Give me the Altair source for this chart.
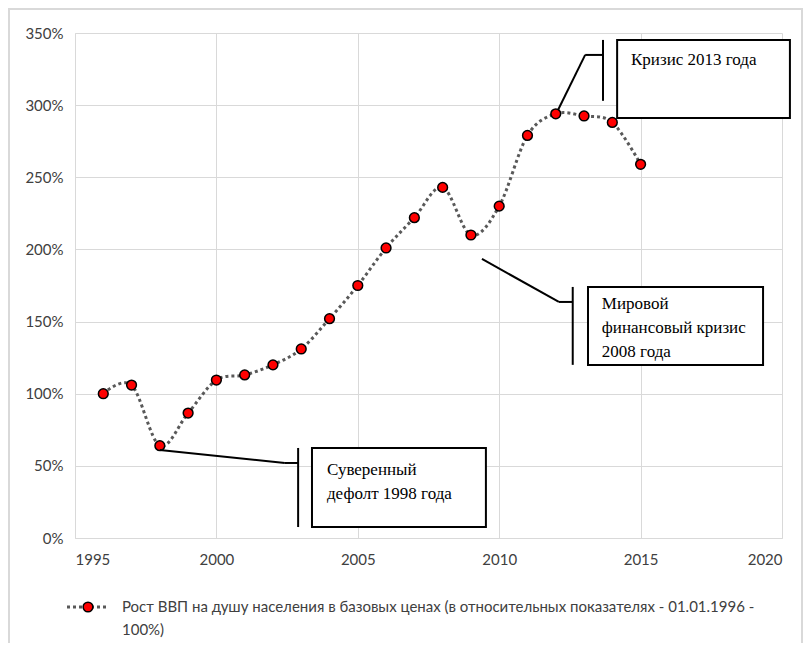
import altair as alt
import pandas as pd

years = list(range(1996, 2016))
values = [100, 106, 64, 86.6, 109.5, 113, 120, 131, 152, 175, 201, 222, 243, 210, 230, 279, 294, 292.5, 288, 259]
x_ticks = [1995, 2000, 2005, 2010, 2015, 2020]
y_ticks = [0, 0.5, 1.0, 1.5, 2.0, 2.5, 3.0, 3.5]
legend_title = "Рост ВВП на душу населения в базовых ценах (в относительных показателях - 01.01.1996 -"
legend_title2 = "100%)"

# annotation boxes (data coordinates: year, percent)
box_x = [2014.17, 2013.14, 2003.38]
box_x2 = [2020.28, 2019.33, 2009.53]
box_y = [345.2, 174.0, 62.4]
box_y2 = [291.1, 119.9, 7.6]
# vertical bars of callouts
bar_x = [2013.67, 2012.60, 2002.89]
bar_y = [345.2, 174.0, 62.4]
bar_y2 = [303.0, 120.0, 7.6]
# leader segments
seg_x = [2012.08, 2013.04, 2009.39, 2012.11, 1998.0, 2002.42]
seg_x2 = [2013.04, 2013.67, 2012.11, 2012.60, 2002.42, 2002.89]
seg_y = [296.6, 334.8, 193.4, 163.6, 61.0, 52.0]
seg_y2 = [334.8, 334.8, 163.6, 163.6, 52.0, 52.0]
# annotation text lines
txt = ["Кризис 2013 года", "Мировой", "финансовый кризис", "2008 года", "Суверенный", "дефолт 1998 года"]
txt_x = [2014.66, 2013.63, 2013.63, 2013.63, 2003.91, 2003.91]
txt_y = [327.8, 158.7, 142.1, 125.4, 43.7, 27.0]

df = pd.DataFrame({"year": years, "v": [v / 100 for v in values]})
boxes = pd.DataFrame({"x": box_x, "x2": box_x2, "y": [v / 100 for v in box_y], "y2": [v / 100 for v in box_y2]})
bars = pd.DataFrame({"x": bar_x, "y": [v / 100 for v in bar_y], "y2": [v / 100 for v in bar_y2]})
segs = pd.DataFrame({"x": seg_x, "x2": seg_x2, "y": [v / 100 for v in seg_y], "y2": [v / 100 for v in seg_y2]})
texts = pd.DataFrame({"t": txt, "x": txt_x, "y": [v / 100 for v in txt_y]})
one = pd.DataFrame({"a": [0]})

xs = alt.Scale(domain=[1995, 2020], nice=False)
ys = alt.Scale(domain=[0, 3.5], nice=False)

label_font = "Lato"
serif = "Liberation Serif"

X = alt.X("year:Q", scale=xs, axis=alt.Axis(values=x_ticks, format="d", title=None, labelPadding=14,
                                             labelFontSize=15, labelFont=label_font, labelColor="#404040",
                                             ticks=False, grid=True, gridColor="#d9d9d9", domainColor="#d9d9d9"))
Y = alt.Y("v:Q", scale=ys, axis=alt.Axis(values=y_ticks, format=".0%", title=None, labelPadding=12,
                                          labelFontSize=15, labelFont=label_font, labelColor="#404040",
                                          ticks=False, grid=True, gridColor="#d9d9d9", domainColor="#d9d9d9"))

line = alt.Chart(df).mark_line(interpolate="cardinal", color="#595959", strokeWidth=3, strokeDash=[3, 3]).encode(x=X, y=Y)
pts = alt.Chart(df).mark_point(filled=True, fill="#ff0000", stroke="#000000", strokeWidth=1.5, size=95, opacity=1).encode(
    x=alt.X("year:Q", scale=xs), y=alt.Y("v:Q", scale=ys))

rects = alt.Chart(boxes).mark_rect(fill="white", stroke="black", strokeWidth=2).encode(
    x=alt.X("x:Q", scale=xs), x2="x2:Q", y=alt.Y("y:Q", scale=ys), y2="y2:Q")
vbars = alt.Chart(bars).mark_rule(color="black", strokeWidth=2).encode(
    x=alt.X("x:Q", scale=xs), y=alt.Y("y:Q", scale=ys), y2="y2:Q")
leaders = alt.Chart(segs).mark_rule(color="black", strokeWidth=2).encode(
    x=alt.X("x:Q", scale=xs), x2="x2:Q", y=alt.Y("y:Q", scale=ys), y2="y2:Q")
labels = alt.Chart(texts).mark_text(font=serif, fontSize=17, align="left", baseline="alphabetic", color="black").encode(
    x=alt.X("x:Q", scale=xs), y=alt.Y("y:Q", scale=ys), text="t:N")

# legend (drawn manually so that the label can wrap)
leg_line = alt.Chart(one).mark_rule(color="#595959", strokeWidth=3, strokeDash=[3, 3]).encode(
    x=alt.value(-8), x2=alt.value(32), y=alt.value(574))
leg_pt = alt.Chart(one).mark_point(filled=True, fill="#ff0000", stroke="#000000", strokeWidth=1.5, size=95, opacity=1).encode(
    x=alt.value(13), y=alt.value(574))
leg_t1 = alt.Chart(one).mark_text(text=legend_title, font=label_font, fontSize=15, align="left", baseline="middle", color="#404040").encode(
    x=alt.value(47), y=alt.value(574))
leg_t2 = alt.Chart(one).mark_text(text=legend_title2, font=label_font, fontSize=15, align="left", baseline="middle", color="#404040").encode(
    x=alt.value(47), y=alt.value(597))
frame = alt.Chart(one).mark_rect(fillOpacity=0, stroke="#d9d9d9", strokeWidth=2).encode(
    x=alt.value(-66), x2=alt.value(727), y=alt.value(-24), y2=alt.value(620))

chart = alt.layer(frame, line, pts, leaders, vbars, rects, labels, leg_line, leg_pt, leg_t1, leg_t2).properties(
    width=707, height=505,
    autosize=alt.AutoSizeParams(type="none"),
    padding={"left": 67, "top": 25, "right": 22, "bottom": 105},
    background="white",
).configure_view(strokeWidth=0)

chart.save("out.html", embed_options={"renderer": "svg", "actions": False})
